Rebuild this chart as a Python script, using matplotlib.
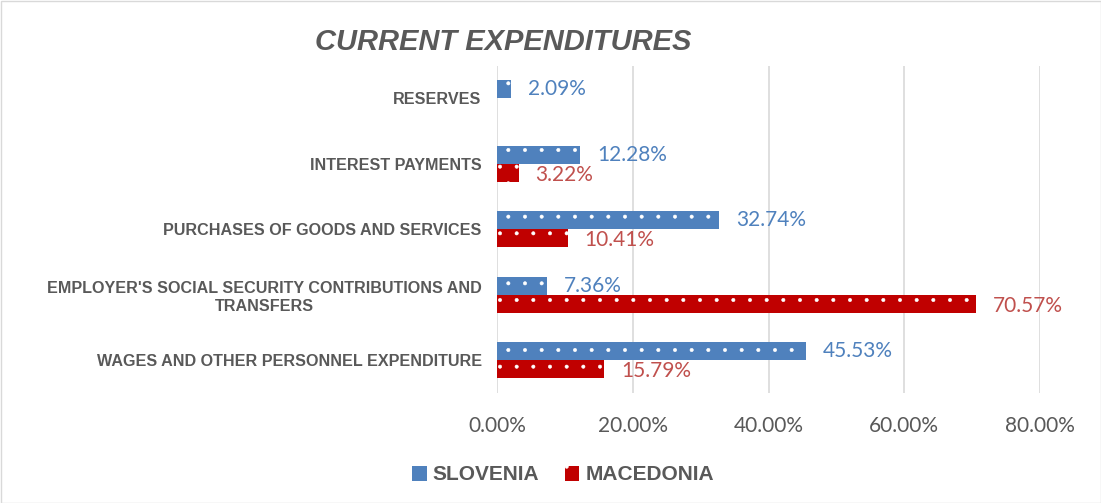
import numpy as np
import matplotlib.pyplot as plt
from matplotlib.patches import Patch, Rectangle

# data (bottom to top)
categories = ["WAGES AND OTHER PERSONNEL EXPENDITURE",
              "EMPLOYER'S SOCIAL SECURITY CONTRIBUTIONS AND\nTRANSFERS",
              "PURCHASES OF GOODS AND SERVICES",
              "INTEREST PAYMENTS",
              "RESERVES"]
slovenia = [45.53, 7.36, 32.74, 12.28, 2.09]
macedonia = [15.79, 70.57, 10.41, 3.22, None]
xticks = [0, 20, 40, 60, 80]

blue = '#4F81BD'
red = '#C00000'
blue_txt = '#4F81BD'
red_txt = '#C0504D'
gray = '#595959'

plt.rcParams['hatch.linewidth'] = 0.4

fig = plt.figure(figsize=(11.01, 5.03), dpi=100)
ax = fig.add_axes([497/1101, 1-392.75/503, (1040-497)/1101, (392.75-65.75)/503])

y = np.arange(len(categories))
h = 0.275
for i in range(len(categories)):
    v = slovenia[i]
    ax.barh(y[i] + h/2, v, height=h, color=blue, edgecolor='white', linewidth=0, hatch='.', zorder=3)
    ax.annotate(f"{v:.2f}%", (v, y[i] + h/2), xytext=(12, 0), textcoords='offset points',
                va='center', ha='left', color=blue_txt, fontsize=15, family='Lato')
    m = macedonia[i]
    if m is not None:
        ax.barh(y[i] - h/2, m, height=h, color=red, edgecolor='white', linewidth=0, hatch='.', zorder=3)
        ax.annotate(f"{m:.2f}%", (m, y[i] - h/2 - 0.03), xytext=(12, 0), textcoords='offset points',
                    va='center', ha='left', color=red_txt, fontsize=15, family='Lato')

ax.set_xlim(0, 80)
ax.set_ylim(-0.5, len(categories) - 0.5)
ax.set_xticks(xticks)
ax.set_xticklabels([f"{t:.2f}%" for t in xticks], fontsize=15, color=gray, family='Lato')
ax.set_yticks(y)
ax.set_yticklabels(categories, fontsize=11.6, fontweight='bold', color=gray,
                   family='Liberation Sans', multialignment='center')
ax.tick_params(axis='x', length=0, pad=17)
ax.tick_params(axis='y', length=0, pad=11)
ax.grid(axis='x', color='#D9D9D9', linewidth=1.2, zorder=0)
for s in ax.spines.values():
    s.set_visible(False)

fig.text(503/1101, 1-42/503, "CURRENT EXPENDITURES", ha='center', va='center',
         fontsize=21, fontweight='bold', style='italic', color=gray, family='Liberation Sans')

handles = [Patch(facecolor=blue, edgecolor='white', linewidth=0, label='SLOVENIA'),
           Patch(facecolor=red, edgecolor='white', linewidth=0, hatch='.', label='MACEDONIA')]
leg = fig.legend(handles=handles, loc='center', bbox_to_anchor=(563/1101, 1-475/503), ncol=2,
                 frameon=False, handlelength=0.7, handleheight=0.7, handletextpad=0.3,
                 columnspacing=1.2, prop={'family': 'Liberation Sans', 'weight': 'bold', 'size': 15})
for t in leg.get_texts():
    t.set_color(gray)

fig.patches.append(Rectangle((0.5/1101, 0.5/503), 1-1/1101, 1-1/503, transform=fig.transFigure,
                             fill=False, edgecolor='#D9D9D9', linewidth=1))

fig.savefig('out.png', dpi=100)
